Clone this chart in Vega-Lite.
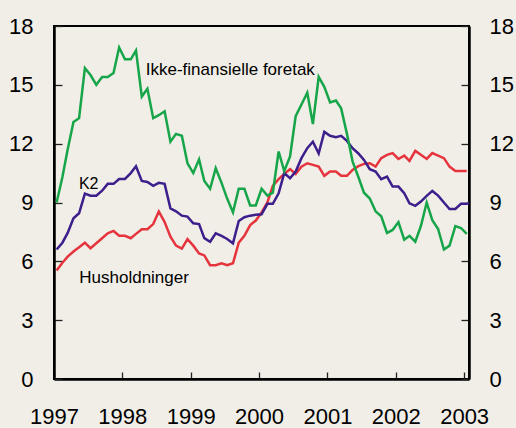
{
  "$schema": "https://vega.github.io/schema/vega-lite/v6.json",
  "width": 415,
  "height": 353,
  "autosize": "none",
  "padding": {"left": 54, "top": 26, "right": 47, "bottom": 49},
  "background": "#f1eee7",
  "config": {
    "font": "Liberation Sans",
    "view": {"stroke": "#000", "strokeWidth": 2},
    "axis": {
      "labelFont": "Liberation Sans",
      "labelFontSize": 22,
      "labelColor": "#000",
      "domainColor": "#000",
      "domainWidth": 2.5,
      "tickColor": "#222",
      "tickWidth": 1.3,
      "grid": false
    }
  },
  "datasets": {
    "series": [
      {"d": "1997-01-15", "G": 9.0, "P": 6.6, "R": 5.53},
      {"d": "1997-02-15", "G": 10.3, "P": 6.95, "R": 5.93},
      {"d": "1997-03-15", "G": 11.7, "P": 7.45, "R": 6.24},
      {"d": "1997-04-15", "G": 13.1, "P": 8.2, "R": 6.5},
      {"d": "1997-05-15", "G": 13.3, "P": 8.45, "R": 6.72},
      {"d": "1997-06-15", "G": 15.85, "P": 9.45, "R": 6.95},
      {"d": "1997-07-15", "G": 15.5, "P": 9.35, "R": 6.67},
      {"d": "1997-08-15", "G": 15.0, "P": 9.35, "R": 6.92},
      {"d": "1997-09-15", "G": 15.4, "P": 9.6, "R": 7.18},
      {"d": "1997-10-15", "G": 15.4, "P": 9.95, "R": 7.43},
      {"d": "1997-11-15", "G": 15.6, "P": 9.95, "R": 7.55},
      {"d": "1997-12-15", "G": 16.9, "P": 10.2, "R": 7.31},
      {"d": "1998-01-15", "G": 16.3, "P": 10.2, "R": 7.3},
      {"d": "1998-02-15", "G": 16.3, "P": 10.5, "R": 7.18},
      {"d": "1998-03-15", "G": 16.75, "P": 10.85, "R": 7.4},
      {"d": "1998-04-15", "G": 14.4, "P": 10.1, "R": 7.64},
      {"d": "1998-05-15", "G": 14.8, "P": 10.05, "R": 7.64},
      {"d": "1998-06-15", "G": 13.3, "P": 9.85, "R": 7.9},
      {"d": "1998-07-15", "G": 13.45, "P": 10.0, "R": 8.54},
      {"d": "1998-08-15", "G": 13.65, "P": 9.95, "R": 8.0},
      {"d": "1998-09-15", "G": 12.1, "P": 8.7, "R": 7.26},
      {"d": "1998-10-15", "G": 12.5, "P": 8.55, "R": 6.8},
      {"d": "1998-11-15", "G": 12.4, "P": 8.33, "R": 6.65},
      {"d": "1998-12-15", "G": 11.0, "P": 8.28, "R": 7.13},
      {"d": "1999-01-15", "G": 10.5, "P": 7.94, "R": 6.8},
      {"d": "1999-02-15", "G": 11.2, "P": 7.9, "R": 6.4},
      {"d": "1999-03-15", "G": 10.1, "P": 7.18, "R": 6.3},
      {"d": "1999-04-15", "G": 9.7, "P": 7.0, "R": 5.8},
      {"d": "1999-05-15", "G": 10.75, "P": 7.43, "R": 5.8},
      {"d": "1999-06-15", "G": 10.0, "P": 7.3, "R": 5.9},
      {"d": "1999-07-15", "G": 9.2, "P": 7.14, "R": 5.8},
      {"d": "1999-08-15", "G": 8.5, "P": 6.92, "R": 5.9},
      {"d": "1999-09-15", "G": 9.7, "P": 8.06, "R": 6.95},
      {"d": "1999-10-15", "G": 9.7, "P": 8.25, "R": 7.3},
      {"d": "1999-11-15", "G": 8.85, "P": 8.33, "R": 7.85},
      {"d": "1999-12-15", "G": 8.85, "P": 8.37, "R": 8.08},
      {"d": "2000-01-15", "G": 9.7, "P": 8.4, "R": 8.49},
      {"d": "2000-02-15", "G": 9.35, "P": 8.93, "R": 9.0},
      {"d": "2000-03-15", "G": 9.5, "P": 8.93, "R": 9.85},
      {"d": "2000-04-15", "G": 11.6, "P": 9.47, "R": 10.19},
      {"d": "2000-05-15", "G": 10.6, "P": 10.5, "R": 10.46},
      {"d": "2000-06-15", "G": 11.35, "P": 10.24, "R": 10.7},
      {"d": "2000-07-15", "G": 13.4, "P": 10.58, "R": 10.46},
      {"d": "2000-08-15", "G": 14.0, "P": 11.26, "R": 10.83},
      {"d": "2000-09-15", "G": 14.6, "P": 11.77, "R": 11.0},
      {"d": "2000-10-15", "G": 13.0, "P": 12.1, "R": 10.92},
      {"d": "2000-11-15", "G": 15.4, "P": 11.5, "R": 10.83},
      {"d": "2000-12-15", "G": 14.9, "P": 12.6, "R": 10.36},
      {"d": "2001-01-15", "G": 14.1, "P": 12.4, "R": 10.58},
      {"d": "2001-02-15", "G": 14.2, "P": 12.33, "R": 10.58},
      {"d": "2001-03-15", "G": 13.8, "P": 12.4, "R": 10.36},
      {"d": "2001-04-15", "G": 12.5, "P": 12.14, "R": 10.36},
      {"d": "2001-05-15", "G": 11.1, "P": 11.77, "R": 10.66},
      {"d": "2001-06-15", "G": 10.3, "P": 11.5, "R": 10.85},
      {"d": "2001-07-15", "G": 9.5, "P": 11.17, "R": 10.97},
      {"d": "2001-08-15", "G": 9.2, "P": 10.7, "R": 11.0},
      {"d": "2001-09-15", "G": 8.55, "P": 10.58, "R": 10.83},
      {"d": "2001-10-15", "G": 8.3, "P": 10.19, "R": 11.26},
      {"d": "2001-11-15", "G": 7.45, "P": 10.32, "R": 11.43},
      {"d": "2001-12-15", "G": 7.6, "P": 9.81, "R": 11.52},
      {"d": "2002-01-15", "G": 8.0, "P": 9.81, "R": 11.22},
      {"d": "2002-02-15", "G": 7.1, "P": 9.47, "R": 11.39},
      {"d": "2002-03-15", "G": 7.3, "P": 8.96, "R": 11.12},
      {"d": "2002-04-15", "G": 7.0, "P": 8.83, "R": 11.63},
      {"d": "2002-05-15", "G": 7.8, "P": 9.05, "R": 11.43},
      {"d": "2002-06-15", "G": 9.0, "P": 9.34, "R": 11.22},
      {"d": "2002-07-15", "G": 8.1, "P": 9.59, "R": 11.52},
      {"d": "2002-08-15", "G": 7.65, "P": 9.35, "R": 11.39},
      {"d": "2002-09-15", "G": 6.6, "P": 9.0, "R": 11.26},
      {"d": "2002-10-15", "G": 6.8, "P": 8.67, "R": 10.83},
      {"d": "2002-11-15", "G": 7.8, "P": 8.67, "R": 10.61},
      {"d": "2002-12-15", "G": 7.7, "P": 8.93, "R": 10.61},
      {"d": "2003-01-15", "G": 7.4, "P": 8.93, "R": 10.61},
      {"d": "2003-02-15", "P": 9.05}
    ]
  },
  "layer": [
    {
      "data": {"name": "series"},
      "transform": [{"fold": ["R", "P", "G"], "as": ["s", "v"]}],
      "mark": {"type": "line", "strokeWidth": 2.5, "clip": true},
      "encoding": {
        "x": {
          "field": "d", "type": "temporal",
          "scale": {"domain": [{"year": 1997, "month": 1, "date": 1}, {"year": 2003, "month": 1, "date": 27}]},
          "axis": {
            "title": null, "format": "%Y",
            "values": [{"year": 1997}, {"year": 1998}, {"year": 1999}, {"year": 2000}, {"year": 2001}, {"year": 2002}, {"year": 2003}],
            "tickSize": -7, "labelPadding": 34, "labelFlush": false
          }
        },
        "y": {
          "field": "v", "type": "quantitative",
          "scale": {"domain": [0, 18]},
          "axis": {"title": null, "orient": "left", "values": [0, 3, 6, 9, 12, 15, 18], "tickSize": -8, "labelPadding": 29}
        },
        "color": {
          "field": "s", "type": "nominal",
          "scale": {"domain": ["R", "P", "G"], "range": ["#e5343d", "#3d1f8c", "#17a54a"]},
          "legend": null
        }
      }
    },
    {
      "data": {"values": [{"d": "1997-05-14", "v": 9.69, "t": "K2"}]},
      "mark": {"type": "text", "align": "left", "baseline": "alphabetic", "font": "Liberation Sans", "fontSize": 16, "color": "#000"},
      "encoding": {
        "x": {
          "field": "d", "type": "temporal",
          "scale": {"domain": [{"year": 1997, "month": 1, "date": 1}, {"year": 2003, "month": 1, "date": 27}]},
          "axis": {
            "title": null, "format": "%Y",
            "values": [{"year": 1997}, {"year": 1998}, {"year": 1999}, {"year": 2000}, {"year": 2001}, {"year": 2002}, {"year": 2003}],
            "tickSize": -7, "labelPadding": 34, "labelFlush": false
          }
        },
        "y": {
          "field": "v", "type": "quantitative", "scale": {"domain": [0, 18]},
          "axis": {"title": null, "orient": "right", "values": [0, 3, 6, 9, 12, 15, 18], "tickSize": -8, "labelPadding": 28}
        },
        "text": {"field": "t"}
      }
    },
    {
      "data": {"values": [
        {"d": "1998-05-06", "v": 15.49, "t": "Ikke-finansielle foretak"},
        {"d": "1997-05-16", "v": 4.91, "t": "Husholdninger"}
      ]},
      "mark": {"type": "text", "align": "left", "baseline": "alphabetic", "font": "Liberation Sans", "fontSize": 17, "color": "#000"},
      "encoding": {
        "x": {
          "field": "d", "type": "temporal",
          "scale": {"domain": [{"year": 1997, "month": 1, "date": 1}, {"year": 2003, "month": 1, "date": 27}]},
          "axis": {
            "title": null, "format": "%Y",
            "values": [{"year": 1997}, {"year": 1998}, {"year": 1999}, {"year": 2000}, {"year": 2001}, {"year": 2002}, {"year": 2003}],
            "tickSize": -7, "labelPadding": 34, "labelFlush": false
          }
        },
        "y": {"field": "v", "type": "quantitative", "scale": {"domain": [0, 18]}, "axis": null},
        "text": {"field": "t"}
      }
    }
  ],
  "resolve": {"axis": {"y": "independent"}}
}
